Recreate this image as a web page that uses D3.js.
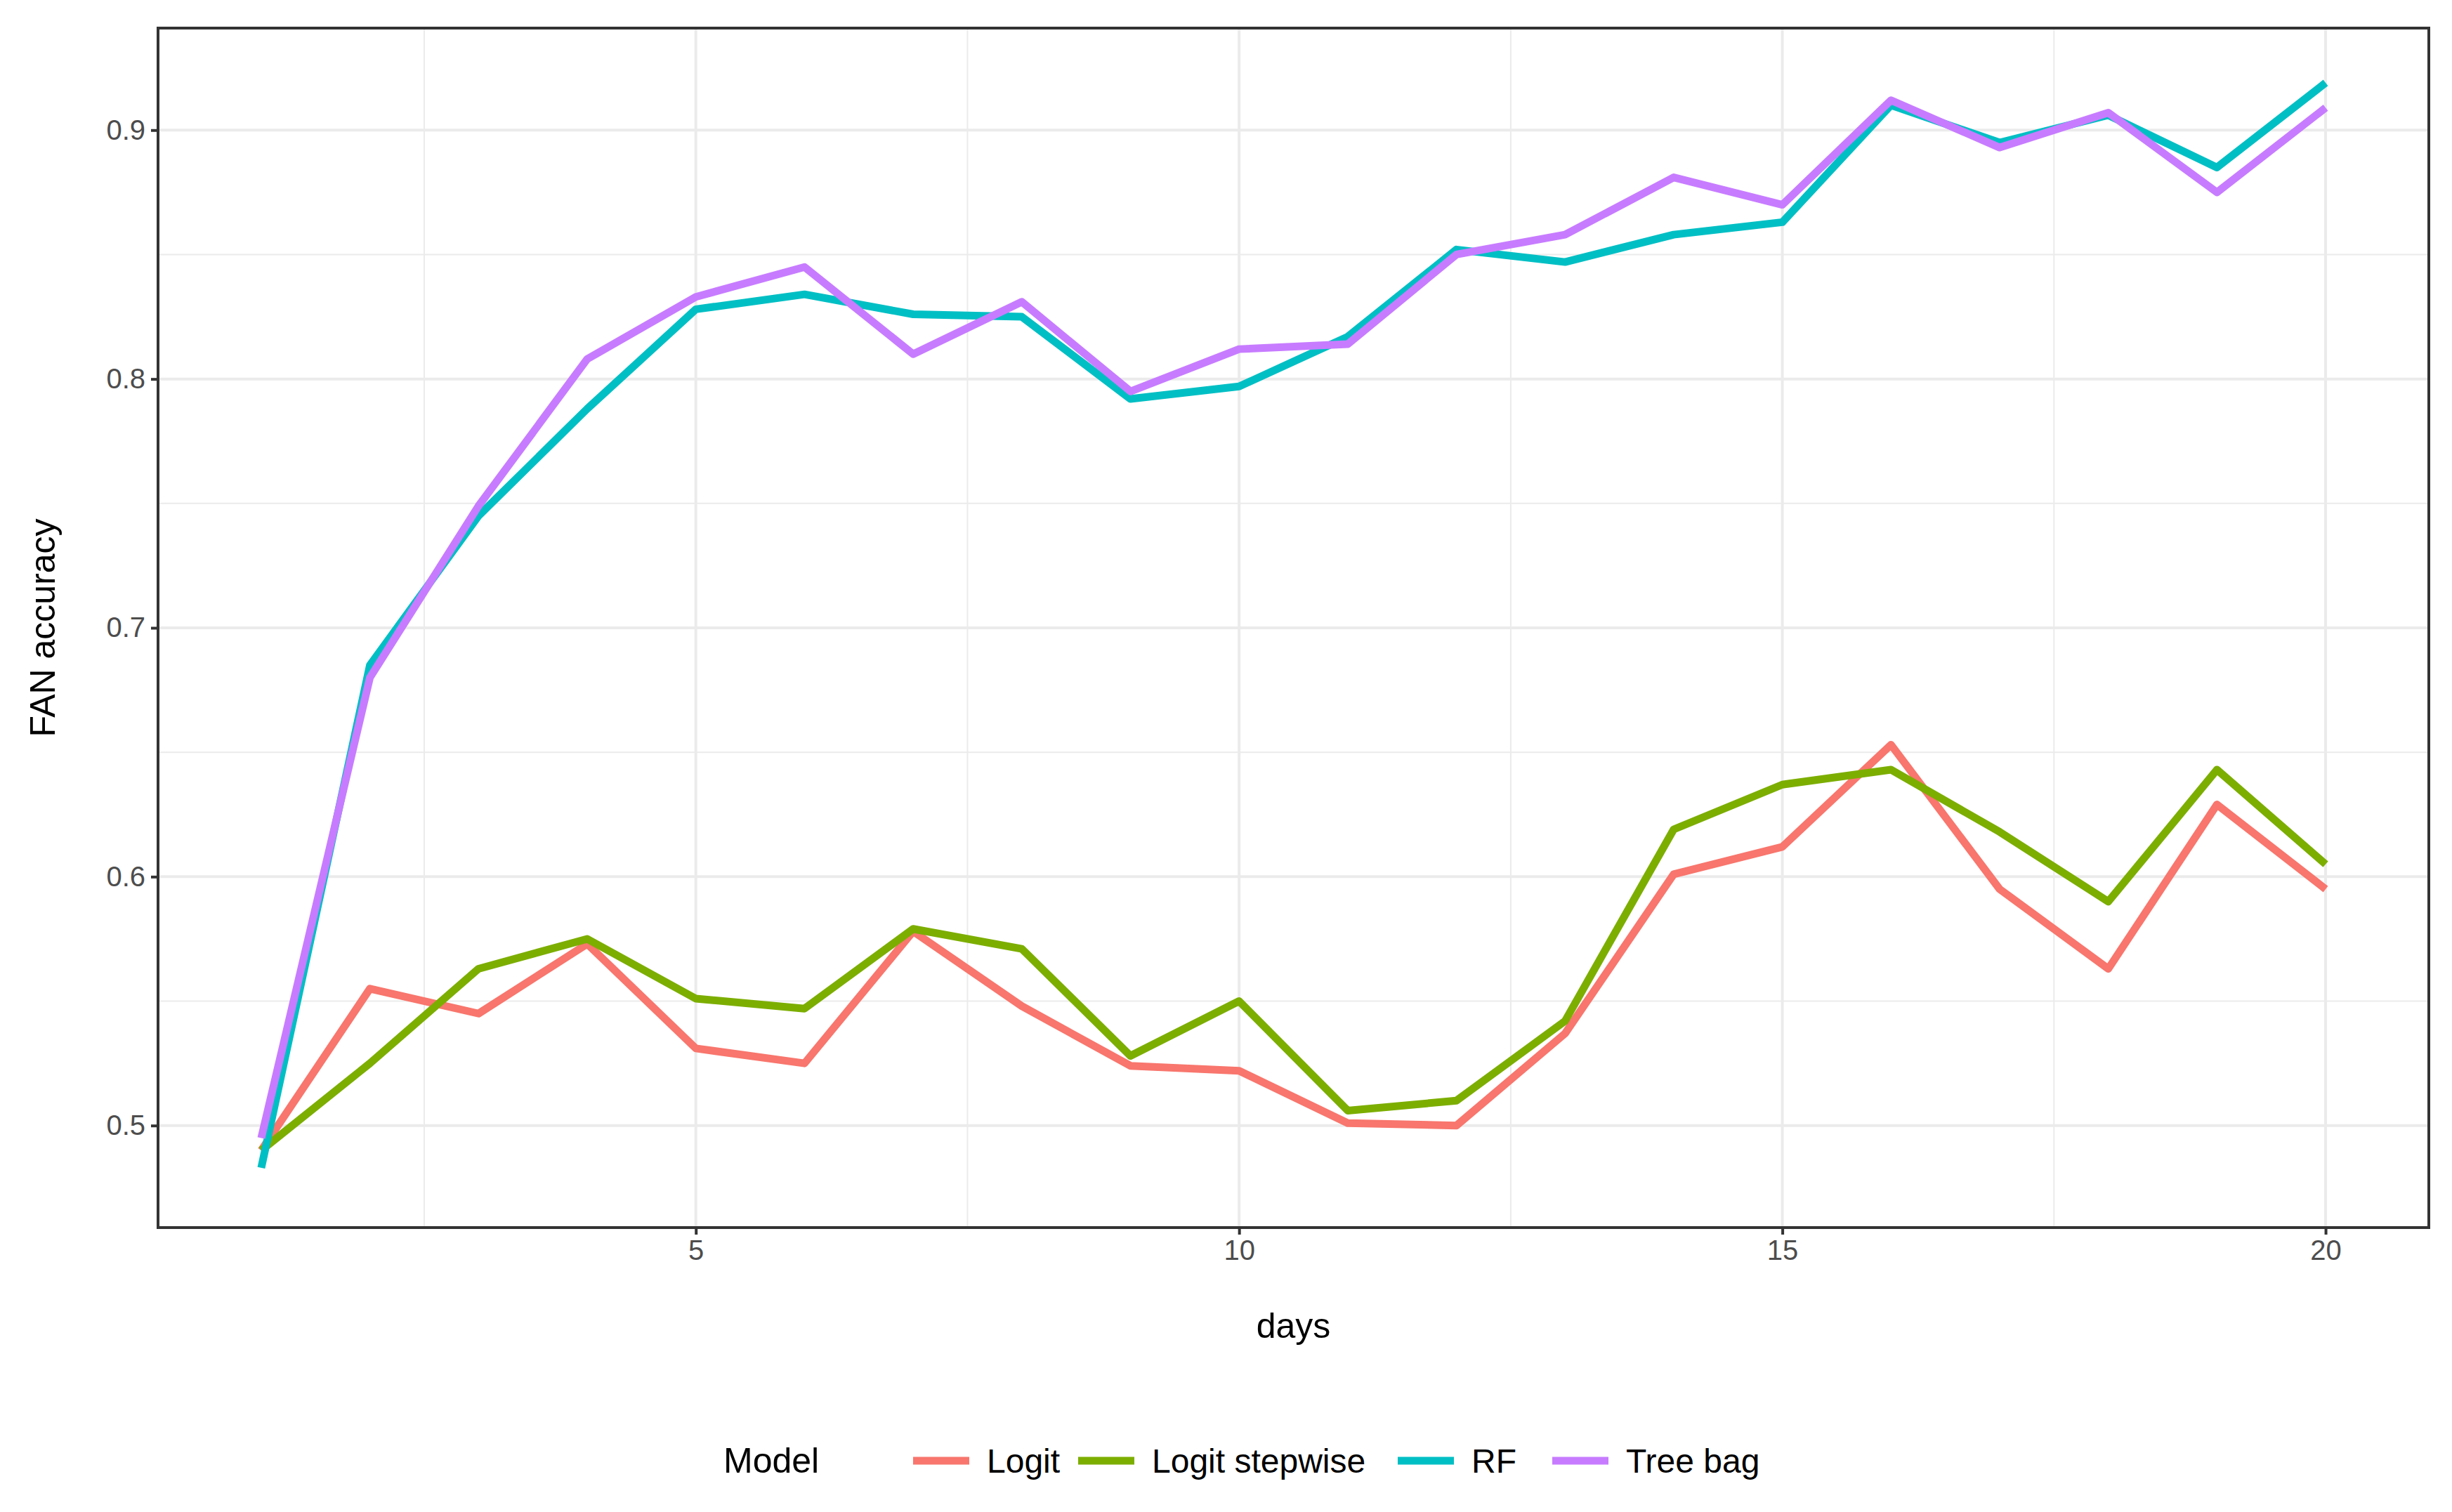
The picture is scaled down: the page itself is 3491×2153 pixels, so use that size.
<!DOCTYPE html><html><head><meta charset="utf-8">
<script src="https://cdn.jsdelivr.net/npm/d3@7"></script>
<style>body{margin:0;background:#fff}</style></head><body>
<script>
const days=d3.range(1,21);
const logit=[0.49,0.555,0.545,0.573,0.531,0.525,0.578,0.548,0.524,0.522,0.501,0.500,0.537,0.601,0.612,0.653,0.595,0.563,0.629,0.595];
const stepwise=[0.490,0.525,0.563,0.575,0.551,0.547,0.579,0.571,0.528,0.550,0.506,0.510,0.542,0.619,0.637,0.643,0.618,0.590,0.643,0.605];
const rf=[0.483,0.685,0.745,0.788,0.828,0.834,0.826,0.825,0.792,0.797,0.817,0.852,0.847,0.858,0.863,0.910,0.895,0.906,0.885,0.919];
const treebag=[0.495,0.680,0.749,0.808,0.833,0.845,0.810,0.831,0.795,0.812,0.814,0.850,0.858,0.881,0.870,0.912,0.893,0.907,0.875,0.909];
const seriesNames=["Logit","Logit stepwise","RF","Tree bag"];
const colors=["#F8766D","#7CAE00","#00BFC4","#C77CFF"];
const xTicks=[5,10,15,20], yTicks=[0.5,0.6,0.7,0.8,0.9];
const data=[logit,stepwise,rf,treebag];
const W=3491,H=2153,L=225,R=3458,T=40,B=1748;
const svg=d3.select("body").append("svg").attr("width",W).attr("height",H).style("font-family","Liberation Sans, Arial, sans-serif");
const x=d3.scaleLinear().domain([0.05,20.95]).range([L,R]);
const y=d3.scaleLinear().domain([0.459,0.941]).range([B,T]);
const g=svg.append("g");
// minor grid
d3.range(2.5,21,5).forEach(v=>g.append("line").attr("x1",x(v)).attr("x2",x(v)).attr("y1",T).attr("y2",B).attr("stroke","#ebebeb").attr("stroke-width",2));
[0.55,0.65,0.75,0.85].forEach(v=>g.append("line").attr("x1",L).attr("x2",R).attr("y1",y(v)).attr("y2",y(v)).attr("stroke","#ebebeb").attr("stroke-width",2));
xTicks.forEach(v=>g.append("line").attr("x1",x(v)).attr("x2",x(v)).attr("y1",T).attr("y2",B).attr("stroke","#ebebeb").attr("stroke-width",4));
yTicks.forEach(v=>g.append("line").attr("x1",L).attr("x2",R).attr("y1",y(v)).attr("y2",y(v)).attr("stroke","#ebebeb").attr("stroke-width",4));
const line=d3.line().x((d,i)=>x(days[i])).y(d=>y(d));
data.forEach((s,i)=>g.append("path").attr("d",line(s)).attr("fill","none").attr("stroke",colors[i]).attr("stroke-width",11).attr("stroke-linejoin","round"));
svg.append("rect").attr("x",L).attr("y",T).attr("width",R-L).attr("height",B-T).attr("fill","none").attr("stroke","#333").attr("stroke-width",4);
const xa=svg.append("g").attr("transform",`translate(0,${B})`).call(d3.axisBottom(x).tickValues(xTicks).tickSize(10).tickPadding(8));
const ya=svg.append("g").attr("transform",`translate(${L},0)`).call(d3.axisLeft(y).tickValues(yTicks).tickFormat(d3.format(".1f")).tickSize(10).tickPadding(8));
[xa,ya].forEach(a=>{a.select(".domain").remove();a.selectAll("line").attr("stroke","#333").attr("stroke-width",4);a.selectAll("text").attr("font-size",40).attr("fill","#4d4d4d").style("font-family","Liberation Sans, Arial, sans-serif");});
svg.append("text").attr("x",(L+R)/2).attr("y",1905).attr("text-anchor","middle").attr("font-size",50).text("days");
svg.append("text").attr("transform",`translate(78,${(T+B)/2}) rotate(-90)`).attr("text-anchor","middle").attr("font-size",50).text("FAN accuracy");
const ly=2080;
svg.append("text").attr("x",1030).attr("y",ly+17).attr("font-size",50).text("Model");
const lx=[1300,1535,1990,2210];
seriesNames.forEach((n,i)=>{
 svg.append("line").attr("x1",lx[i]).attr("x2",lx[i]+80).attr("y1",ly).attr("y2",ly).attr("stroke",colors[i]).attr("stroke-width",11);
 svg.append("text").attr("x",lx[i]+105).attr("y",ly+17).attr("font-size",48).text(n);
});
</script></body></html>
